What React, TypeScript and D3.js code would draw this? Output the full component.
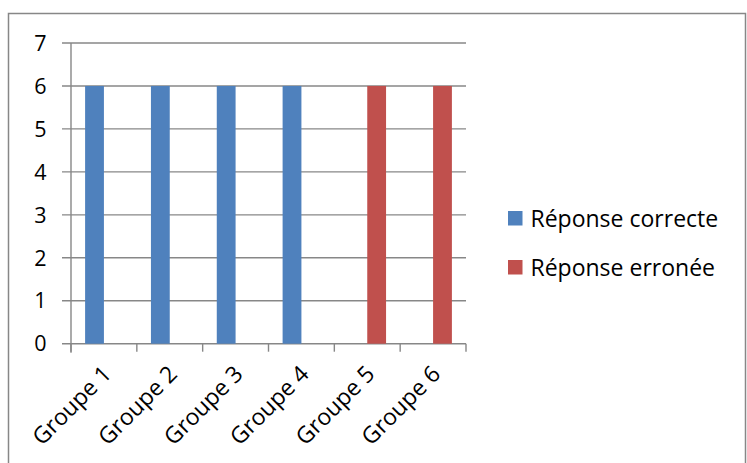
import React from "react";
import * as d3 from "d3";

const categories = ["Groupe 1", "Groupe 2", "Groupe 3", "Groupe 4", "Groupe 5", "Groupe 6"];
const seriesNames = ["Réponse correcte", "Réponse erronée"];
const correctValues = [6, 6, 6, 6, 0, 0];
const wrongValues = [0, 0, 0, 0, 6, 6];
const yTicks = [0, 1, 2, 3, 4, 5, 6, 7];
const seriesColors = ["#4F81BD", "#C0504D"];

const W = 747;
const H = 463;
const plot = { left: 71, right: 466, top: 43, bottom: 343.7 };
const FONT = "'Open Sans', 'Noto Sans', sans-serif";
const GRID = "#878787";

export default function App() {
  const x = d3.scaleBand<string>().domain(categories).range([plot.left, plot.right]).paddingInner(0).paddingOuter(0);
  const inner = d3
    .scaleBand<string>()
    .domain(seriesNames)
    .range([0, x.bandwidth()])
    .paddingInner(0)
    .paddingOuter(0.75);
  const y = d3.scaleLinear().domain([0, 7]).range([plot.bottom, plot.top]);

  const series = [correctValues, wrongValues];
  const tickXs = categories.map((c) => x(c) as number).concat([plot.right]);

  return (
    <svg
      width={W}
      height={H}
      style={{ position: "absolute", left: 0, top: 0, background: "#fff" }}
      fontFamily={FONT}
    >
      <rect x={8.5} y={13.5} width={737} height={470} fill="#fff" stroke={GRID} strokeWidth={1.5} />

      {yTicks.map((t) => (
        <g key={t}>
          <line x1={plot.left - 9} x2={plot.right} y1={y(t)} y2={y(t)} stroke={GRID} strokeWidth={1.4} />
          <text x={46.5} y={y(t)} dy="0.36em" textAnchor="end" fontSize={21.5} fill="#000">
            {t}
          </text>
        </g>
      ))}

      <line x1={plot.left} x2={plot.left} y1={plot.top} y2={plot.bottom + 9} stroke={GRID} strokeWidth={1.4} />
      {tickXs.map((tx, i) => (
        <line key={i} x1={tx} x2={tx} y1={plot.bottom} y2={plot.bottom + 8} stroke={GRID} strokeWidth={1.4} />
      ))}

      {series.map((vals, si) =>
        vals.map((v, ci) => {
          if (v === 0) return null;
          const bx = (x(categories[ci]) as number) + (inner(seriesNames[si]) as number);
          return (
            <rect
              key={`${si}-${ci}`}
              x={bx}
              y={y(v)}
              width={inner.bandwidth()}
              height={y(0) - y(v)}
              fill={seriesColors[si]}
            />
          );
        })
      )}

      {categories.map((c) => {
        const cx = (x(c) as number) + x.bandwidth() / 2;
        const ax = cx + 3;
        const ay = plot.bottom + 26;
        return (
          <text
            key={c}
            x={ax}
            y={ay}
            transform={`rotate(-45 ${ax} ${ay})`}
            textAnchor="end"
            dy="0.36em"
            fontSize={23}
            fill="#000"
          >
            {c}
          </text>
        );
      })}

      {seriesNames.map((name, i) => (
        <g key={name} transform={`translate(508, ${211 + i * 49})`}>
          <rect x={0} y={0} width={14.5} height={14.5} fill={seriesColors[i]} />
          <text x={22.5} y={7.5} dy="0.36em" fontSize={23} fill="#000">
            {name}
          </text>
        </g>
      ))}
    </svg>
  );
}
